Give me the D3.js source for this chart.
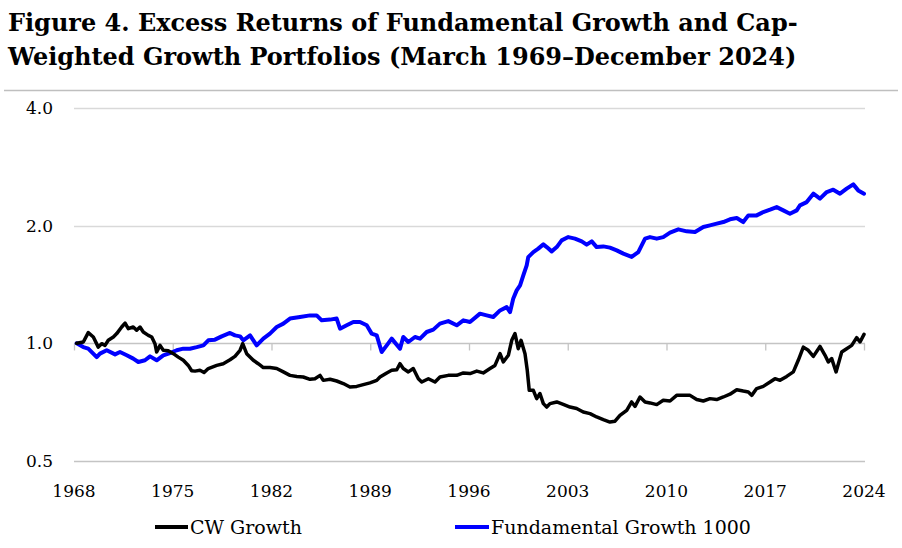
<!DOCTYPE html>
<html>
<head>
<meta charset="utf-8">
<script src="https://cdn.jsdelivr.net/npm/d3@7"></script>
<style>
  html, body { margin: 0; padding: 0; background: #fff; }
  svg { display: block; }
</style>
</head>
<body>
<svg id="chart" width="902" height="548"></svg>
<script>
const titleLines = ["Figure 4. Excess Returns of Fundamental Growth and Cap-",
                    "Weighted Growth Portfolios (March 1969\u2013December 2024)"];
const seriesNames = ["CW Growth", "Fundamental Growth 1000"];
const yTickValues = [0.5, 1, 2, 4];
const yTickLabels = ["0.5", "1.0", "2.0", "4.0"];
const xTickValues = [1968, 1975, 1982, 1989, 1996, 2003, 2010, 2017, 2024];

const cwYears = [1968.19,1968.66,1969.01,1969.37,1969.72,1969.96,1970.20,1970.43,1970.79,1971.03,
1971.38,1971.62,1971.85,1972.20,1972.44,1972.68,1972.91,1973.27,1973.51,1973.74,
1973.86,1974.10,1974.33,1974.68,1975.04,1975.39,1975.75,1976.10,1976.34,1976.58,
1976.93,1977.22,1977.52,1978.12,1978.58,1979.06,1979.41,1979.77,1979.96,1980.24,
1980.71,1981.06,1981.42,1981.89,1982.37,1982.84,1983.31,1983.79,1984.25,1984.73,
1985.08,1985.44,1985.67,1986.15,1986.62,1987.09,1987.56,1988.04,1988.51,1988.98,
1989.46,1989.69,1990.17,1990.52,1990.88,1991.11,1991.34,1991.70,1992.05,1992.41,
1992.65,1993.12,1993.59,1993.94,1994.53,1995.13,1995.60,1996.07,1996.55,1997.01,
1997.49,1997.84,1998.20,1998.43,1998.79,1999.03,1999.26,1999.49,1999.69,1999.97,
2000.13,2000.27,2000.56,2000.80,2001.03,2001.27,2001.51,2001.74,2002.22,2002.68,
2003.16,2003.63,2004.10,2004.58,2005.05,2005.52,2005.99,2006.35,2006.70,2007.18,
2007.53,2007.77,2008.12,2008.48,2008.83,2009.31,2009.77,2010.25,2010.72,2011.19,
2011.67,2012.14,2012.61,2013.08,2013.56,2014.03,2014.50,2014.98,2015.44,2015.80,
2016.04,2016.39,2016.86,2017.34,2017.69,2018.05,2018.52,2018.99,2019.34,2019.70,
2020.05,2020.41,2020.88,2021.24,2021.47,2021.71,2022.02,2022.42,2022.77,2023.13,
2023.48,2023.72,2024.00];
const cwValues = [1.000,1.008,1.065,1.038,0.978,0.998,0.988,1.018,1.038,1.059,
1.101,1.127,1.090,1.101,1.080,1.101,1.069,1.048,1.038,0.998,
0.950,0.988,0.960,0.957,0.941,0.922,0.905,0.878,0.851,0.849,
0.853,0.842,0.862,0.878,0.887,0.908,0.926,0.960,0.998,0.941,
0.905,0.887,0.867,0.867,0.862,0.845,0.828,0.823,0.820,0.809,
0.812,0.828,0.804,0.809,0.801,0.789,0.773,0.776,0.784,0.792,
0.804,0.820,0.840,0.853,0.856,0.887,0.862,0.845,0.862,0.812,
0.796,0.812,0.796,0.820,0.828,0.828,0.840,0.837,0.849,0.840,
0.862,0.878,0.941,0.896,0.932,1.018,1.059,0.969,1.018,0.941,
0.853,0.758,0.758,0.722,0.744,0.701,0.687,0.701,0.708,0.698,
0.687,0.681,0.667,0.661,0.648,0.638,0.629,0.632,0.654,0.674,
0.708,0.690,0.729,0.708,0.704,0.697,0.715,0.712,0.736,0.736,
0.736,0.718,0.712,0.722,0.718,0.729,0.741,0.761,0.755,0.751,
0.736,0.766,0.776,0.796,0.812,0.804,0.823,0.845,0.905,0.978,
0.960,0.926,0.982,0.932,0.896,0.914,0.845,0.950,0.969,0.988,
1.034,1.008,1.054];

const fgYears = [1968.19,1968.66,1969.01,1969.61,1969.84,1970.32,1970.91,1971.26,1971.74,1972.20,
1972.56,1973.03,1973.39,1973.86,1974.33,1974.80,1975.28,1975.75,1976.22,1976.70,
1977.17,1977.52,1977.99,1978.47,1979.06,1979.41,1979.77,1980.00,1980.48,1980.95,
1981.42,1981.89,1982.37,1982.84,1983.31,1984.02,1984.73,1985.20,1985.56,1986.15,
1986.62,1986.86,1987.33,1987.80,1988.27,1988.75,1989.10,1989.46,1989.81,1990.17,
1990.52,1991.11,1991.34,1991.70,1992.17,1992.53,1993.00,1993.47,1993.94,1994.53,
1995.13,1995.60,1996.07,1996.78,1997.25,1997.72,1998.20,1998.67,1998.91,1999.14,
1999.38,1999.62,1999.85,2000.09,2000.20,2000.56,2000.91,2001.27,2001.51,2001.86,
2002.22,2002.57,2003.04,2003.51,2003.99,2004.34,2004.70,2005.05,2005.52,2005.99,
2006.47,2006.94,2007.53,2008.00,2008.48,2008.83,2009.31,2009.77,2010.25,2010.84,
2011.43,2012.02,2012.61,2013.08,2013.56,2014.03,2014.50,2014.98,2015.44,2015.80,
2016.39,2016.86,2017.34,2017.81,2018.28,2018.75,2019.23,2019.46,2019.94,2020.41,
2020.88,2021.36,2021.82,2022.30,2022.77,2023.24,2023.59,2024.00];
const fgValues = [1.000,0.978,0.969,0.922,0.941,0.960,0.937,0.950,0.932,0.914,
0.896,0.905,0.926,0.905,0.932,0.944,0.960,0.969,0.969,0.978,
0.988,1.018,1.022,1.042,1.063,1.048,1.042,1.018,1.048,0.988,
1.028,1.059,1.101,1.123,1.157,1.168,1.179,1.179,1.145,1.150,
1.157,1.090,1.112,1.134,1.134,1.112,1.059,1.048,0.950,0.988,
1.028,0.969,1.038,1.008,1.038,1.028,1.069,1.084,1.123,1.140,
1.112,1.145,1.134,1.191,1.179,1.168,1.214,1.238,1.202,1.303,
1.366,1.407,1.493,1.583,1.662,1.712,1.747,1.791,1.763,1.719,
1.763,1.834,1.870,1.853,1.823,1.788,1.823,1.763,1.770,1.757,
1.729,1.696,1.664,1.712,1.853,1.870,1.853,1.870,1.919,1.957,
1.934,1.926,1.984,2.003,2.024,2.043,2.076,2.092,2.043,2.125,
2.125,2.167,2.198,2.231,2.189,2.146,2.189,2.254,2.298,2.415,
2.345,2.438,2.472,2.415,2.487,2.551,2.462,2.415];

const svg = d3.select("#chart");
const serif = "'DejaVu Serif', serif";

// Title
const t1 = svg.append("text").attr("x", 8).attr("y", 31)
  .attr("font-family", serif).attr("font-weight", "bold").attr("font-size", 26)
  .attr("fill", "#000").text(titleLines[0]);
const w1 = t1.node().getComputedTextLength();
const tSize = 26 * 790 / w1;
t1.attr("font-size", tSize);
svg.append("text").attr("x", 8).attr("y", 65)
  .attr("font-family", serif).attr("font-weight", "bold").attr("font-size", tSize)
  .attr("fill", "#000").text(titleLines[1]);

svg.append("line").attr("x1", 4).attr("x2", 898).attr("y1", 90.5).attr("y2", 90.5)
  .attr("stroke", "#bfbfbf").attr("stroke-width", 1.5);

// Scales
const x = d3.scaleLinear().domain([1968, 2024]).range([74, 864]);
const y = d3.scaleLog().base(2).domain([0.5, 4]).range([461, 108]);

// Gridlines
svg.append("g").selectAll("line").data(yTickValues).join("line")
  .attr("x1", 74).attr("x2", 865)
  .attr("y1", d => Math.round(y(d)) + 0.5).attr("y2", d => Math.round(y(d)) + 0.5)
  .attr("stroke", d => (d === 1 || d === 0.5) ? "#c4c4c4" : "#d9d9d9")
  .attr("stroke-width", 1.3);

// Y labels
svg.append("g").selectAll("text").data(yTickValues).join("text")
  .attr("x", 53).attr("y", d => y(d) + 6)
  .attr("text-anchor", "end")
  .attr("font-family", serif).attr("font-size", 17).attr("fill", "#000")
  .text((d, i) => yTickLabels[i]);

// X axis at 1.0 with ticks going down
const xAxis = d3.axisBottom(x).tickValues(xTickValues).tickSize(7).tickFormat("");
const gx = svg.append("g").attr("transform", `translate(0,${Math.round(y(1)) + 0.5})`).call(xAxis);
gx.select(".domain").remove();
gx.selectAll(".tick line").attr("stroke", "#c4c4c4").attr("stroke-width", 1.3);

// X labels at bottom
svg.append("g").selectAll("text").data(xTickValues).join("text")
  .attr("x", d => x(d)).attr("y", 497)
  .attr("text-anchor", "middle")
  .attr("font-family", serif).attr("font-size", 17).attr("fill", "#000")
  .text(d => d);

// Lines
const line = d3.line().x(d => x(d[0])).y(d => y(d[1])).curve(d3.curveLinear);
const fgData = fgYears.map((yr, i) => [yr, fgValues[i]]);
const cwData = cwYears.map((yr, i) => [yr, cwValues[i]]);
svg.append("path").datum(fgData).attr("d", line)
  .attr("fill", "none").attr("stroke", "#0000ff").attr("stroke-width", 4)
  .attr("stroke-linejoin", "round").attr("stroke-linecap", "round");
svg.append("path").datum(cwData).attr("d", line)
  .attr("fill", "none").attr("stroke", "#000000").attr("stroke-width", 3.5)
  .attr("stroke-linejoin", "round").attr("stroke-linecap", "round");

// Legend
const legend = [
  {name: seriesNames[0], color: "#000000", x0: 155, x1: 188},
  {name: seriesNames[1], color: "#0000ff", x0: 455, x1: 489}
];
const lg = svg.append("g");
legend.forEach(l => {
  lg.append("line").attr("x1", l.x0).attr("x2", l.x1).attr("y1", 527).attr("y2", 527)
    .attr("stroke", l.color).attr("stroke-width", 4);
  lg.append("text").attr("x", l.x1 + 2).attr("y", 534)
    .attr("font-family", serif).attr("font-size", 19).attr("fill", "#000")
    .text(l.name);
});
</script>
</body>
</html>
